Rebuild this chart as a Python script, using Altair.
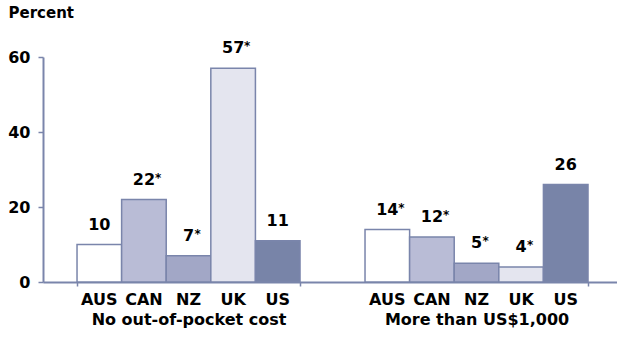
import altair as alt
import pandas as pd

countries = ["AUS", "CAN", "NZ", "UK", "US"]
groups = ["No out-of-pocket cost", "More than US$1,000"]
no_cost = [10, 22, 7, 57, 11]
over_1000 = [14, 12, 5, 4, 26]
no_cost_sig = [False, True, True, True, False]
over_1000_sig = [True, True, True, True, False]
y_ticks = [0, 20, 40, 60]

fills = ["#ffffff", "#b9bcd6", "#a2a7c6", "#e4e5ef", "#7884a8"]
AXIS = "#7a85ab"
FONT = "DejaVu Sans"

rows = []
for g, vals, sigs in [(groups[0], no_cost, no_cost_sig), (groups[1], over_1000, over_1000_sig)]:
    for c, v, s in zip(countries, vals, sigs):
        rows.append({"group": g, "country": c, "value": v, "sig": s,
                     "ndig": len(str(v))})
df = pd.DataFrame(rows)

x = alt.X("group:N", sort=groups,
          scale=alt.Scale(paddingInner=0.2257, paddingOuter=0.1094, align=0.54),
          axis=alt.Axis(title=None, labelAngle=0, labelFontSize=16, labelFont=FONT,
                        labelFontWeight="bold", labelColor="black", labelPadding=25,
                        labelLimit=0,
                        tickBand="extent", tickSize=4, tickColor=AXIS, tickWidth=1.5,
                        domainColor=AXIS, domainWidth=2))
xo = alt.XOffset("country:N", sort=countries,
                 scale=alt.Scale(paddingInner=0, paddingOuter=0))
y = alt.Y("value:Q", scale=alt.Scale(domain=[0, 60]),
          axis=alt.Axis(values=y_ticks, grid=False, title="Percent", titleAngle=0,
                        titleX=-35, titleY=-40, titleAlign="left",
                        titleBaseline="alphabetic", titleFont=FONT, titleFontSize=15,
                        titleFontWeight="bold", titleColor="black",
                        labelFont=FONT, labelFontSize=16, labelFontWeight="bold",
                        labelColor="black", labelPadding=8, tickSize=5,
                        tickColor=AXIS, tickWidth=1.5, domainColor=AXIS, domainWidth=2))

base = alt.Chart(df)

bars = base.mark_bar(stroke=AXIS, strokeWidth=1.5).encode(
    x=x, xOffset=xo, y=y,
    fill=alt.Fill("country:N", sort=countries,
                  scale=alt.Scale(domain=countries, range=fills), legend=None),
)

nums = base.mark_text(font=FONT, fontSize=16, fontWeight="bold", color="black",
                      baseline="alphabetic", dy=-15).encode(
    x=x, xOffset=xo, y=y, text=alt.Text("value:Q"))

star2 = base.transform_filter("datum.sig && datum.ndig == 2").mark_text(
    font=FONT, fontSize=12, fontWeight="bold", color="black", align="left",
    baseline="alphabetic", dy=-18, dx=11).encode(
    x=x, xOffset=xo, y=y, text=alt.value("*"))

star1 = base.transform_filter("datum.sig && datum.ndig == 1").mark_text(
    font=FONT, fontSize=12, fontWeight="bold", color="black", align="left",
    baseline="alphabetic", dy=-18, dx=6).encode(
    x=x, xOffset=xo, y=y, text=alt.value("*"))

clabels = base.mark_text(font=FONT, fontSize=16, fontWeight="bold", color="black",
                         baseline="alphabetic", dy=23).encode(
    x=x, xOffset=xo, y=alt.datum(0), text=alt.Text("country:N"))

chart = alt.layer(bars, nums, star2, star1, clabels).properties(
    width=574, height=225,
    autosize=alt.AutoSizeParams(type="none"),
    padding={"left": 43, "top": 57, "right": 0, "bottom": 57},
    background="white",
).configure_view(stroke=None)

chart.save("out.html", embed_options={"renderer": "svg", "actions": False})
